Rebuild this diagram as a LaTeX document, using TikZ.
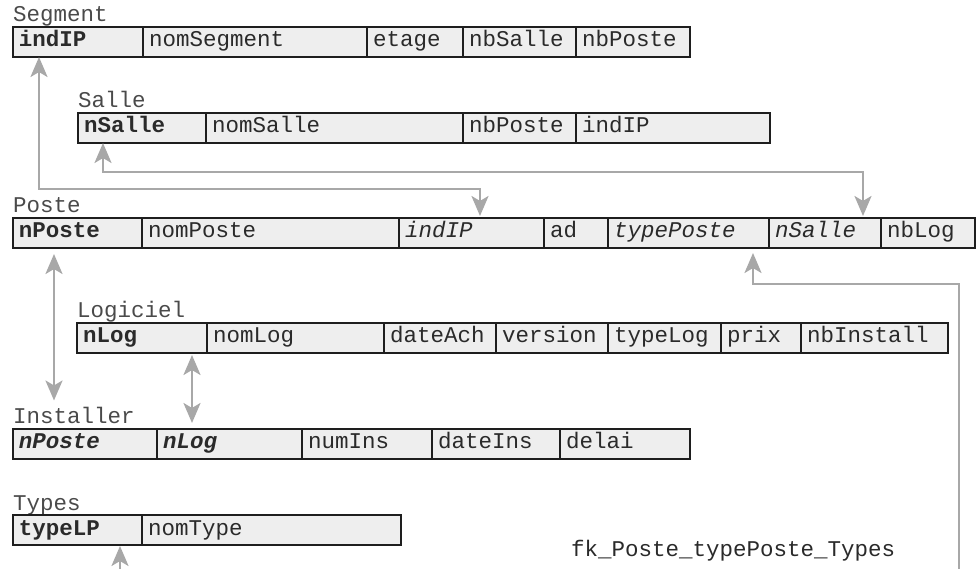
\documentclass[tikz,border=0pt]{standalone}
\usepackage{fontspec}
\usetikzlibrary{arrows.meta}
\newfontfamily\courfam{Liberation Mono}
\newcommand\cellfont{\courfam\fontsize{22.5pt}{26pt}\selectfont}
\definecolor{bordc}{HTML}{1E1E1E}
\definecolor{cellc}{HTML}{EEEEEE}
\definecolor{linkc}{HTML}{A8A8A8}
\definecolor{textc}{HTML}{2A2A2A}
\definecolor{labc}{HTML}{4A4A4A}
\tikzset{
  cell/.style={draw=bordc, fill=cellc, line width=2pt, anchor=north west,
    outer sep=0pt, inner xsep=6pt, inner ysep=0pt, minimum height=30pt,
    text height=14pt, text depth=4pt, align=left, font=\cellfont, text=textc},
  pk/.style={font=\cellfont\bfseries},
  fkf/.style={font=\cellfont\itshape},
  pkfk/.style={font=\cellfont\bfseries\itshape},
  title/.style={anchor=base west, inner sep=0pt, font=\cellfont, text=labc},
  link2/.style={draw=linkc, line width=2.5pt,
    arrows={Stealth[length=20pt,width=17pt,inset=5pt]-Stealth[length=20pt,width=17pt,inset=5pt]}},
  link1/.style={draw=linkc, line width=2.5pt,
    arrows={-Stealth[length=20pt,width=17pt,inset=5pt]}}
}
\begin{document}
\begin{tikzpicture}[x=1pt,y=-1pt]
\useasboundingbox (0,0) rectangle (978,569);
% Segment
\node[title] (seg-title) at (13,22) {Segment};
\node[cell,pk,text width=118pt] (seg-indIP) at (13,27) {indIP};
\node[cell,text width=212pt] (seg-nom) at (seg-indIP.north east) {nomSegment};
\node[cell,text width=84pt] (seg-etage) at (seg-nom.north east) {etage};
\node[cell,text width=101pt] (seg-nbSalle) at (seg-etage.north east) {nbSalle};
\node[cell,text width=102pt] (seg-nbPoste) at (seg-nbSalle.north east) {nbPoste};
% Salle
\node[title] (salle-title) at (78,108) {Salle};
\node[cell,pk,text width=116pt] (salle-nSalle) at (78,113) {nSalle};
\node[cell,text width=245pt] (salle-nom) at (salle-nSalle.north east) {nomSalle};
\node[cell,text width=101pt] (salle-nbPoste) at (salle-nom.north east) {nbPoste};
\node[cell,text width=182pt] (salle-indIP) at (salle-nbPoste.north east) {indIP};
% Poste
\node[title] (poste-title) at (13,213) {Poste};
\node[cell,pk,text width=117pt] (poste-nPoste) at (13,218) {nPoste};
\node[cell,text width=245pt] (poste-nom) at (poste-nPoste.north east) {nomPoste};
\node[cell,fkf,text width=133pt] (poste-indIP) at (poste-nom.north east) {indIP};
\node[cell,text width=52pt] (poste-ad) at (poste-indIP.north east) {ad};
\node[cell,fkf,text width=149pt] (poste-typePoste) at (poste-ad.north east) {typePoste};
\node[cell,fkf,text width=100pt] (poste-nSalle) at (poste-typePoste.north east) {nSalle};
\node[cell,text width=82pt] (poste-nbLog) at (poste-nSalle.north east) {nbLog};
% Logiciel
\node[title] (log-title) at (77,318) {Logiciel};
\node[cell,pk,text width=118pt] (log-nLog) at (77,323) {nLog};
\node[cell,text width=165pt] (log-nom) at (log-nLog.north east) {nomLog};
\node[cell,text width=100pt] (log-dateAch) at (log-nom.north east) {dateAch};
\node[cell,text width=100pt] (log-version) at (log-dateAch.north east) {version};
\node[cell,text width=101pt] (log-typeLog) at (log-version.north east) {typeLog};
\node[cell,text width=68pt] (log-prix) at (log-typeLog.north east) {prix};
\node[cell,text width=135pt] (log-nbInstall) at (log-prix.north east) {nbInstall};
% Installer
\node[title] (inst-title) at (13,424) {Installer};
\node[cell,pkfk,text width=132pt] (inst-nPoste) at (13,429) {nPoste};
\node[cell,pkfk,text width=133pt] (inst-nLog) at (inst-nPoste.north east) {nLog};
\node[cell,text width=118pt] (inst-numIns) at (inst-nLog.north east) {numIns};
\node[cell,text width=116pt] (inst-dateIns) at (inst-numIns.north east) {dateIns};
\node[cell,text width=118pt] (inst-delai) at (inst-dateIns.north east) {delai};
% Types
\node[title] (types-title) at (13,510) {Types};
\node[cell,pk,text width=117pt] (types-typeLP) at (13,515) {typeLP};
\node[cell,text width=247pt] (types-nom) at (types-typeLP.north east) {nomType};
% fk label
\node[title,text=textc] (fk-label) at (571,556) {fk\_Poste\_typePoste\_Types};
% connectors
\draw[link2,shorten >=2pt] ([xshift=26pt]seg-indIP.south west) -- ++(0,132)
  -| ([xshift=81pt]poste-indIP.north west);
\draw[link2,shorten >=2pt] ([xshift=25pt]salle-nSalle.south west) -- ++(0,29)
  -| ([xshift=94pt]poste-nSalle.north west);
\draw[link2] ([xshift=41pt,yshift=-6pt]poste-nPoste.south west)
  -- ([xshift=41pt,yshift=7pt]inst-title.north west);
\draw[link2] ([xshift=115pt,yshift=-2pt]log-nLog.south west)
  -- ([xshift=35pt,yshift=6pt]inst-nLog.north west);
\coordinate (types-out) at (120,569);
\draw[link1,shorten >=1pt] (types-out) -- ([xshift=107pt]types-typeLP.south west);
\coordinate (fk-out) at (959,569);
\draw[link1] (fk-out) -- ++(0,-285)
  -| ([xshift=145pt,yshift=-5pt]poste-typePoste.south west);
\end{tikzpicture}
\end{document}
